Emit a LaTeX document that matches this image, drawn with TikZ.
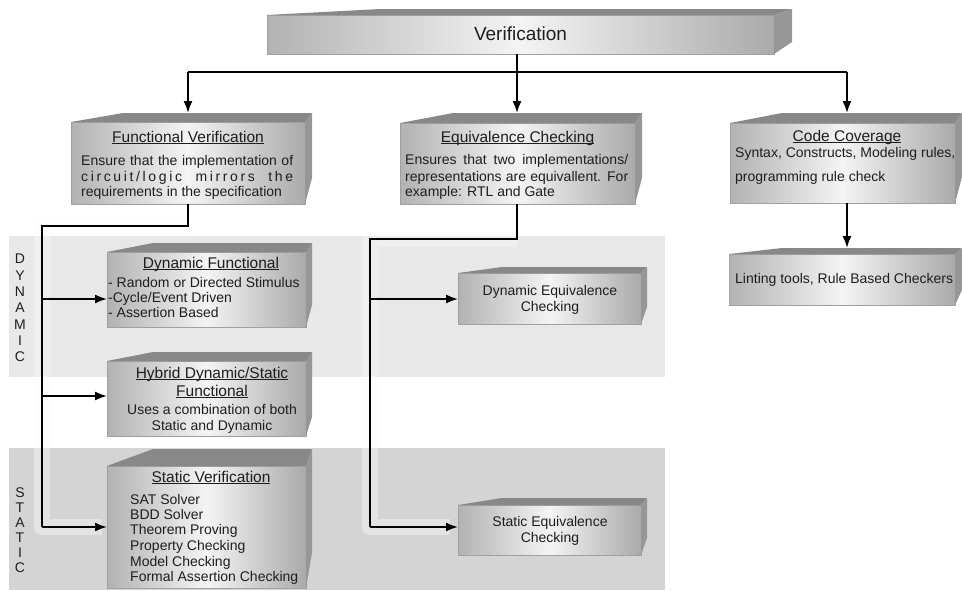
\documentclass[tikz,border=0pt]{standalone}
\usepackage{fontspec}
\setmainfont{Liberation Sans}
\usetikzlibrary{arrows.meta,calc}
\definecolor{bandA}{RGB}{232,232,232}
\definecolor{bandB}{RGB}{212,212,212}
\definecolor{glowc}{RGB}{250,250,250}
\definecolor{gL}{RGB}{178,178,178}
\definecolor{gM}{RGB}{244,244,244}
\definecolor{gR}{RGB}{170,170,170}
\definecolor{topc}{RGB}{136,136,136}
\definecolor{sidec}{RGB}{150,150,150}
\definecolor{edgec}{RGB}{160,160,160}
\definecolor{txt}{RGB}{30,30,30}
\newsavebox\ulbox
\newcommand{\myul}[1]{\sbox\ulbox{#1}\rlap{\rule[-1.8pt]{\wd\ulbox}{0.9pt}}\usebox\ulbox}
\newcommand{\boxfaces}[5]{%
  \fill[topc] (#1.north west) -- ++(#2,-#3) -- ($(#1.north east)+(#4,-#3)$) -- (#1.north east) -- cycle;
  \fill[sidec] (#1.north east) -- ++(#4,-#3) -- ($(#1.south east)+(#4,-#5)$) -- (#1.south east) -- cycle;}
\newcommand{\spc}{\hskip 3pt plus 4fil\relax}
\begin{document}
\begin{tikzpicture}[x=1pt,y=-1pt,
  front/.style={draw=edgec, line width=0.4pt, left color=gL, right color=gR, middle color=gM, inner sep=0pt, outer sep=0pt},
  ttl/.style={anchor=base, inner sep=0pt, text=txt, font=\fontsize{15.5}{18}\selectfont},
  bodyc/.style={anchor=base, inner sep=0pt, text=txt, font=\fontsize{14}{16}\selectfont},
  bodyl/.style={anchor=base west, inner sep=0pt, text=txt, font=\fontsize{14}{16}\selectfont},
  vlbl/.style={inner sep=0pt, text=txt, align=center},
  conn/.style={line width=1.8pt, draw=black},
  arr/.style={conn, -{Latex[length=12pt,width=9pt]}},
  glow/.style={draw=glowc, line width=16pt, line join=round, opacity=0.4}]
\useasboundingbox (0,0) rectangle (962,590);

% bands
\fill[bandA] (9,236) rectangle (665,377);
\fill[bandB] (9,448) rectangle (665,590);

% band labels
\node[vlbl, font=\fontsize{14}{16.3}\selectfont] (dynlbl) at (20,308) {D\\Y\\N\\A\\M\\I\\C};
\node[vlbl, font=\fontsize{14}{15}\selectfont] (stalbl) at (20,530.5) {S\\T\\A\\T\\I\\C};

% coordinates
\coordinate (fvtop) at (188,113);
\coordinate (ectop) at (517,113);
\coordinate (cctop) at (847,113);
\coordinate (linttop) at (847,248);
\coordinate (busL) at (188,72);
\coordinate (busR) at (847,72);
\coordinate (fvbend) at (188,226);
\coordinate (fvcorner) at (42,226);
\coordinate (fvdyn) at (42,299);
\coordinate (fvhyb) at (42,396);
\coordinate (fvsta) at (42,527);
\coordinate (ecbend) at (517,239);
\coordinate (eccorner) at (370,239);
\coordinate (ecdyn) at (370,299);
\coordinate (ecsta) at (370,527);

% glow under trunks
\draw[glow] (fvbend) -- (fvcorner) -- (fvsta) -- ++(60,0);
\draw[glow] (ecbend) -- (eccorner) -- (ecsta) -- ++(80,0);

% boxes
\node[front, minimum width=507pt, minimum height=39pt] (ver) at (520.5,34.5) {};
\boxfaces{ver}{113}{6}{18}{12}
\node[front, minimum width=234pt, minimum height=82pt] (fv) at (188,163) {};
\boxfaces{fv}{52}{9}{7}{26}
\node[front, minimum width=235pt, minimum height=81pt] (ec) at (517.5,163.5) {};
\boxfaces{ec}{53}{10}{7}{26}
\node[front, minimum width=225pt, minimum height=80pt] (cc) at (842.5,163) {};
\boxfaces{cc}{52}{10}{7}{26}
\node[front, minimum width=226pt, minimum height=51pt] (lint) at (842,279.5) {};
\boxfaces{lint}{53}{6}{7}{15}
\node[front, minimum width=199pt, minimum height=75pt] (dfun) at (206.5,289.5) {};
\boxfaces{dfun}{46}{9}{6}{22}
\node[front, minimum width=199pt, minimum height=75pt] (hyb) at (206.5,398.5) {};
\boxfaces{hyb}{46}{9}{6}{19}
\node[front, minimum width=199pt, minimum height=122pt] (sver) at (206.5,527) {};
\boxfaces{sver}{46}{17}{6}{35}
\node[front, minimum width=183pt, minimum height=51pt] (deq) at (549.5,298.5) {};
\boxfaces{deq}{44}{6}{6}{17}
\node[front, minimum width=183pt, minimum height=50pt] (seq) at (549.5,530) {};
\boxfaces{seq}{44}{7}{6}{17}

% connectors
\draw[conn] (busL) -- (busR);
\draw[arr] (ver.south -| ectop) -- (ectop);
\draw[arr] (busL) -- (fvtop);
\draw[arr] (busR) -- (cctop);
\draw[arr] (cc.south -| cctop) -- (linttop);
\draw[conn] (fv.south -| fvbend) -- (fvbend) -- (fvcorner) -- (fvsta);
\draw[arr] (fvdyn) -- (fvdyn -| dfun.west);
\draw[arr] (fvhyb) -- (fvhyb -| hyb.west);
\draw[arr] (fvsta) -- (fvsta -| sver.west);
\draw[conn] (ec.south -| ecbend) -- (ecbend) -- (eccorner) -- (ecsta);
\draw[arr] (ecdyn) -- (ecdyn -| deq.west);
\draw[arr] (ecsta) -- (ecsta -| seq.west);

% texts
\node[ttl, font=\fontsize{19}{22}\selectfont] (tver) at (520.5,40) {Verification};

\node[ttl] (tfv) at (188,142) {\myul{Functional Verification}};
\node[bodyl] (tfv1) at (81,165) {\makebox[212pt][s]{Ensure that the implementation of}};
\node[bodyl] (tfv2) at (81,181) {\makebox[212pt][s]{c\hfil i\hfil r\hfil c\hfil u\hfil i\hfil t\hfil /\hfil l\hfil o\hfil g\hfil i\hfil c\spc m\hfil i\hfil r\hfil r\hfil o\hfil r\hfil s\spc t\hfil h\hfil e}};
\node[bodyl] (tfv3) at (81,196) {requirements in the specification};

\node[ttl] (tec) at (517.5,142) {\myul{Equivalence Checking}};
\node[bodyl] (tec1) at (405,164) {\makebox[223pt][s]{Ensures that two implementations/}};
\node[bodyl] (tec2) at (405,181) {\makebox[223pt][s]{representations are equivallent. For}};
\node[bodyl] (tec3) at (405,196) {example: RTL and Gate};

\node[ttl] (tcc) at (847,141.5) {\myul{Code Coverage}};
\node[bodyl] (tcc1) at (735,157) {Syntax, Constructs, Modeling rules,};
\node[bodyl] (tcc2) at (735,181) {programming rule check};

\node[bodyl] (tlint) at (735,283) {Linting tools, Rule Based Checkers};

\node[ttl] (tdf) at (211,268) {\myul{Dynamic Functional}};
\node[bodyl] (tdf1) at (108,287) {- Random or Directed Stimulus};
\node[bodyl] (tdf2) at (108,302) {-Cycle/Event Driven};
\node[bodyl] (tdf3) at (108,317) {- Assertion Based};

\node[ttl] (thy1) at (212,378) {\myul{Hybrid Dynamic/Static}};
\node[ttl] (thy2) at (212,396) {\myul{Functional}};
\node[bodyc] (thy3) at (212,414) {Uses a combination of both};
\node[bodyc] (thy4) at (212,430) {Static and Dynamic};

\node[ttl] (tsv) at (211,482) {\myul{Static Verification}};
\node[bodyl] (tsv1) at (130,504) {SAT Solver};
\node[bodyl] (tsv2) at (130,519) {BDD Solver};
\node[bodyl] (tsv3) at (130,534) {Theorem Proving};
\node[bodyl] (tsv4) at (130,550) {Property Checking};
\node[bodyl] (tsv5) at (130,566) {Model Checking};
\node[bodyl] (tsv6) at (130,581) {Formal Assertion Checking};

\node[bodyc] (tdq1) at (550,295) {Dynamic Equivalence};
\node[bodyc] (tdq2) at (550,311) {Checking};
\node[bodyc] (tsq1) at (550,526) {Static Equivalence};
\node[bodyc] (tsq2) at (550,542) {Checking};
\end{tikzpicture}
\end{document}
